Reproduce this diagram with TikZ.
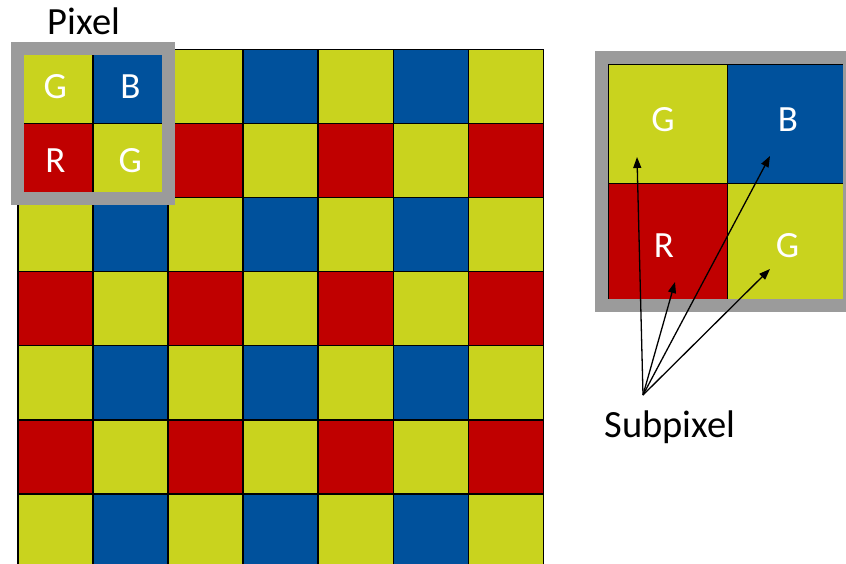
\documentclass[tikz,border=0pt]{standalone}
\usepackage{fontspec}
\setmainfont{Carlito}
\usetikzlibrary{arrows.meta}
\definecolor{cg}{RGB}{201,211,30}
\definecolor{cb}{RGB}{0,81,156}
\definecolor{cr}{RGB}{192,0,0}
\definecolor{cgray}{RGB}{155,155,155}
\begin{document}
\begin{tikzpicture}[x=1pt,y=-1pt,
  cell/.style={draw=black,line width=1.5pt,inner sep=0pt,minimum width=75.1pt,minimum height=74.1pt,anchor=north west},
  bigcell/.style={draw=black,line width=1pt,inner sep=0pt,minimum size=119pt,anchor=north west},
  lbl/.style={text=white,font=\fontsize{37}{37}\selectfont,inner sep=0pt},
  caption/.style={text=black,font=\fontsize{38.5}{38.5}\selectfont,inner sep=0pt,anchor=base},
  frame/.style={draw=cgray,line width=13pt},
  ptr/.style={-{Triangle[length=11pt,width=8pt]},line width=1.3pt,draw=black}]
\useasboundingbox (0,0) rectangle (846,563);
% main mosaic
\foreach \r in {0,...,6} {
  \foreach \c in {0,...,6} {
    \pgfmathtruncatemacro\k{2*mod(\r,2)+mod(\c,2)}
    \ifcase\k \def\col{cg}\or\def\col{cb}\or\def\col{cr}\or\def\col{cg}\fi
    \node[cell,fill=\col] (c\r\c) at ({17+75.1*\c},{48.5+74.1*\r}) {};
  }
}
\node[lbl] (pg1) at (c00.center) {G};
\node[lbl] (pb) at (c01.center) {B};
\node[lbl] (pr) at (c10.center) {R};
\node[lbl] (pg2) at (c11.center) {G};
\draw[frame] (c00.north west) rectangle (c11.south east);
\node[caption] (pixlbl) at (84,34) {Pixel};
% magnified pixel
\node[bigcell,fill=cg] (m00) at (608,64) {};
\node[bigcell,fill=cb] (m01) at (727,64) {};
\node[bigcell,fill=cr] (m10) at (608,183) {};
\node[bigcell,fill=cg] (m11) at (727,183) {};
\draw[frame] (601.5,57.5) rectangle (849.5,305.5);
\node[lbl] (mg1) at (663,120) {G};
\node[lbl] (mb) at (788,120) {B};
\node[lbl] (mr) at (664,246) {R};
\node[lbl] (mg2) at (787.5,246) {G};
% arrows
\coordinate (src) at (643,395);
\coordinate (t1) at (637,157);
\coordinate (t2) at (770,156);
\coordinate (t3) at (675,282);
\coordinate (t4) at (770,269);
\draw[ptr] (src) -- (t1);
\draw[ptr] (src) -- (t2);
\draw[ptr] (src) -- (t3);
\draw[ptr] (src) -- (t4);
\node[caption] (sub) at (670,437) {Subpixel};
\end{tikzpicture}
\end{document}
